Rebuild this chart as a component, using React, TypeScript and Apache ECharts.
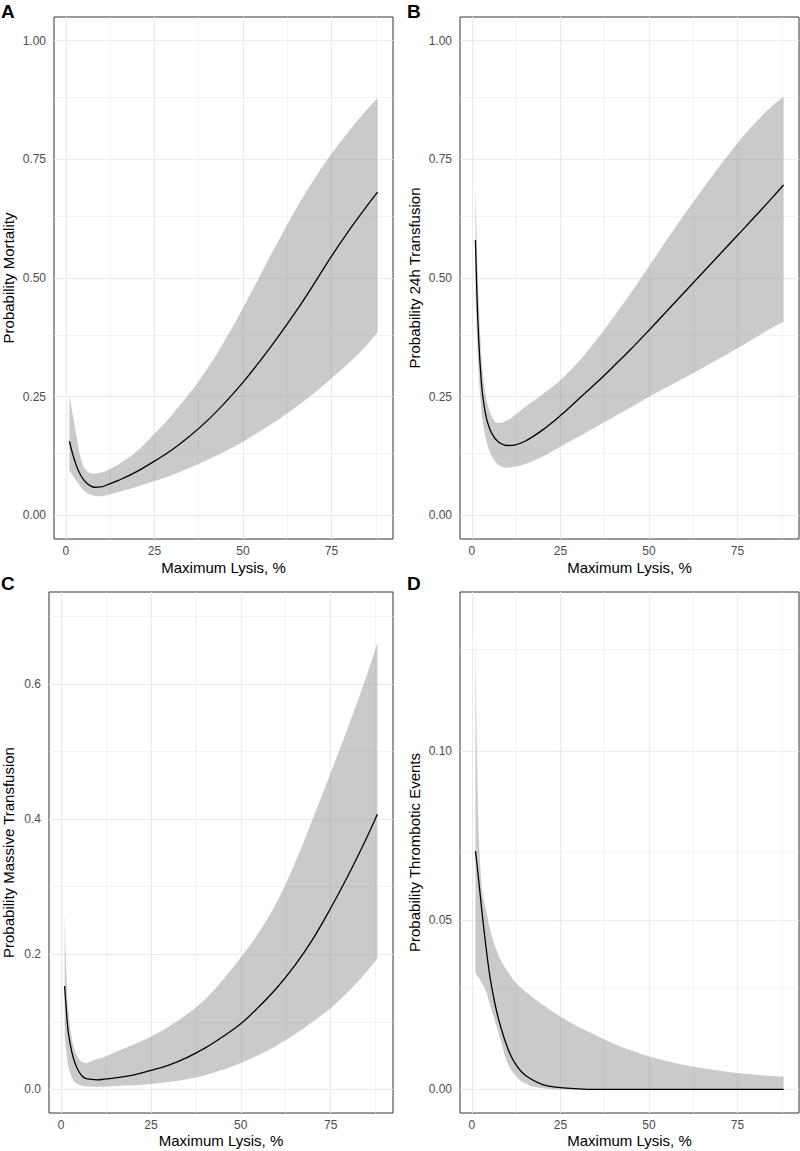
import React, { useEffect, useRef } from "react";
import * as echarts from "echarts";

// ---------- Data ----------
const xA = [1, 2, 3, 4, 5, 6, 7, 8, 10, 12, 15, 20, 25, 30, 35, 40, 45, 50, 55, 60, 65, 70, 75, 80, 85, 88];
const fitA = [0.156, 0.127, 0.104, 0.087, 0.075, 0.067, 0.062, 0.059, 0.06, 0.065, 0.074, 0.092, 0.114, 0.138, 0.167, 0.2, 0.238, 0.28, 0.327, 0.377, 0.43, 0.487, 0.546, 0.601, 0.652, 0.681];
const upA = [0.252, 0.21, 0.167, 0.126, 0.103, 0.093, 0.089, 0.088, 0.09, 0.096, 0.108, 0.135, 0.172, 0.212, 0.258, 0.31, 0.37, 0.437, 0.508, 0.578, 0.646, 0.707, 0.762, 0.81, 0.855, 0.879];
const lowA = [0.095, 0.083, 0.072, 0.062, 0.053, 0.047, 0.043, 0.041, 0.04, 0.043, 0.049, 0.06, 0.072, 0.085, 0.1, 0.117, 0.135, 0.155, 0.178, 0.202, 0.228, 0.257, 0.289, 0.322, 0.359, 0.386];

const xB = [1, 1.5, 2, 2.5, 3, 4, 5, 6, 7, 8, 10, 12, 15, 20, 25, 30, 35, 40, 45, 50, 55, 60, 65, 70, 75, 80, 85, 88];
const fitB = [0.58, 0.45, 0.36, 0.3, 0.255, 0.208, 0.183, 0.168, 0.158, 0.152, 0.147, 0.148, 0.156, 0.18, 0.21, 0.244, 0.278, 0.314, 0.351, 0.39, 0.43, 0.47, 0.51, 0.55, 0.59, 0.63, 0.671, 0.696];
const upB = [0.7, 0.55, 0.44, 0.36, 0.305, 0.25, 0.22, 0.203, 0.195, 0.195, 0.2, 0.21, 0.228, 0.255, 0.285, 0.323, 0.368, 0.418, 0.47, 0.525, 0.58, 0.634, 0.686, 0.736, 0.784, 0.827, 0.864, 0.882];
const lowB = [0.47, 0.37, 0.29, 0.24, 0.2, 0.16, 0.135, 0.12, 0.11, 0.104, 0.1, 0.102, 0.108, 0.124, 0.145, 0.165, 0.186, 0.207, 0.228, 0.25, 0.27, 0.29, 0.31, 0.331, 0.352, 0.374, 0.396, 0.408];

const xC = [1, 1.5, 2, 3, 4, 5, 6, 7, 8, 10, 12, 15, 20, 25, 30, 35, 40, 45, 50, 55, 60, 65, 70, 75, 80, 85, 88];
const fitC = [0.153, 0.115, 0.085, 0.055, 0.037, 0.026, 0.019, 0.016, 0.015, 0.014, 0.015, 0.017, 0.021, 0.028, 0.036, 0.047, 0.061, 0.078, 0.097, 0.122, 0.15, 0.183, 0.222, 0.268, 0.318, 0.372, 0.407];
const upC = [0.265, 0.17, 0.12, 0.075, 0.055, 0.045, 0.04, 0.039, 0.041, 0.045, 0.048, 0.055, 0.066, 0.078, 0.093, 0.111, 0.133, 0.162, 0.195, 0.232, 0.277, 0.334, 0.4, 0.468, 0.538, 0.612, 0.66];
const lowC = [0.08, 0.055, 0.035, 0.018, 0.01, 0.007, 0.005, 0.0045, 0.004, 0.004, 0.004, 0.005, 0.006, 0.008, 0.011, 0.015, 0.021, 0.029, 0.039, 0.051, 0.065, 0.081, 0.1, 0.12, 0.145, 0.174, 0.194];

const xD = [1, 1.5, 2, 2.5, 3, 4, 5, 6, 7, 8, 10, 12, 15, 20, 25, 30, 35, 40, 45, 50, 55, 60, 65, 70, 75, 80, 85, 88];
const fitD = [0.0704, 0.066, 0.061, 0.056, 0.051, 0.042, 0.034, 0.028, 0.023, 0.019, 0.0125, 0.008, 0.0042, 0.0014, 0.0005, 0.00015, 0, 0, 0, 0, 0, 0, 0, 0, 0, 0, 0, 0];
const upD = [0.138, 0.097, 0.074, 0.064, 0.058, 0.053, 0.048, 0.044, 0.041, 0.0385, 0.035, 0.032, 0.029, 0.025, 0.0215, 0.0185, 0.016, 0.0135, 0.0115, 0.0098, 0.0084, 0.0072, 0.0063, 0.0055, 0.0048, 0.0043, 0.0039, 0.0037];
const lowD = [0.0345, 0.0335, 0.033, 0.032, 0.031, 0.029, 0.0255, 0.022, 0.0185, 0.015, 0.008, 0.0045, 0.0017, 0.0003, 0, 0, 0, 0, 0, 0, 0, 0, 0, 0, 0, 0, 0, 0];

const xTicks = [0, 25, 50, 75];
const xMinor = [12.5, 37.5, 62.5, 87.5];
const yTicksAB = [0, 0.25, 0.5, 0.75, 1];
const yMinorAB = [0.125, 0.375, 0.625, 0.875];
const yTicksC = [0, 0.2, 0.4, 0.6];
const yMinorC = [0.1, 0.3, 0.5, 0.7];
const yTicksD = [0, 0.05, 0.1];
const yMinorD = [0.025, 0.075, 0.125];

const letters = ["A", "B", "C", "D"];
const yTitles = [
  "Probability Mortality",
  "Probability 24h Transfusion",
  "Probability Massive Transfusion",
  "Probability Thrombotic Events",
];
const xTitle = "Maximum Lysis, %";

const FONT = "'Liberation Sans', Arial, Helvetica, sans-serif";

const panels = [
  { x: xA, fit: fitA, up: upA, low: lowA, yMin: -0.05, yMax: 1.05, yTicks: yTicksAB, yMinor: yMinorAB, dec: 2,
    grid: { left: 54, top: 17, width: 339, height: 522 }, yGap: 38, xGap: 21, letterPos: [1, 2] },
  { x: xB, fit: fitB, up: upB, low: lowB, yMin: -0.05, yMax: 1.05, yTicks: yTicksAB, yMinor: yMinorAB, dec: 2,
    grid: { left: 460, top: 17, width: 339, height: 522 }, yGap: 38, xGap: 21, letterPos: [407, 2] },
  { x: xC, fit: fitC, up: upC, low: lowC, yMin: -0.035, yMax: 0.736, yTicks: yTicksC, yMinor: yMinorC, dec: 1,
    grid: { left: 47, top: 592, width: 346, height: 521 }, yGap: 33, xGap: 20, letterPos: [1, 574] },
  { x: xD, fit: fitD, up: upD, low: lowD, yMin: -0.007, yMax: 0.147, yTicks: yTicksD, yMinor: yMinorD, dec: 2,
    grid: { left: 460, top: 592, width: 339, height: 521 }, yGap: 38, xGap: 20, letterPos: [407, 574] },
];

const SMOOTH = 0.4;

function buildOption() {
  const grid: any[] = [];
  const xAxis: any[] = [];
  const yAxis: any[] = [];
  const series: any[] = [];
  const graphic: any[] = [];

  panels.forEach((p, i) => {
    grid.push({
      ...p.grid,
      show: true,
      borderColor: "#333333",
      borderWidth: 1,
      backgroundColor: "transparent",
      containLabel: false,
    });
    xAxis.push({
      type: "value",
      gridIndex: i,
      min: -3.35,
      max: 92.35,
      name: xTitle,
      nameLocation: "middle",
      nameGap: p.xGap,
      nameTextStyle: { fontFamily: FONT, fontSize: 15, color: "#000" },
      axisLine: { show: false },
      axisTick: { show: true, customValues: xTicks, length: 4, lineStyle: { color: "#333333", width: 1 } },
      axisLabel: { customValues: xTicks, margin: 6, fontFamily: FONT, fontSize: 12, color: "#4D4D4D", formatter: (v: number) => String(v) },
      splitLine: { show: false },
    });
    yAxis.push({
      type: "value",
      gridIndex: i,
      min: p.yMin,
      max: p.yMax,
      name: yTitles[i],
      nameLocation: "middle",
      nameGap: p.yGap,
      nameTextStyle: { fontFamily: FONT, fontSize: 15, color: "#000" },
      axisLine: { show: false },
      axisTick: { show: true, customValues: p.yTicks, length: 4, lineStyle: { color: "#333333", width: 1 } },
      axisLabel: { customValues: p.yTicks, margin: 8, fontFamily: FONT, fontSize: 12, color: "#4D4D4D", formatter: (v: number) => v.toFixed(p.dec) },
      splitLine: { show: false },
    });

    const gridLines: any[] = [];
    xTicks.forEach((v) => gridLines.push({ xAxis: v, lineStyle: { width: 1.1 } }));
    xMinor.forEach((v) => gridLines.push({ xAxis: v, lineStyle: { width: 0.6 } }));
    p.yTicks.forEach((v) => gridLines.push({ yAxis: v, lineStyle: { width: 1.1 } }));
    p.yMinor.forEach((v) => { if (v < p.yMax) gridLines.push({ yAxis: v, lineStyle: { width: 0.6 } }); });

    const stackName = "band" + i;
    // value first so that the stacked dimension is the y value (x is the second dimension)
    series.push({
      type: "line",
      xAxisIndex: i,
      yAxisIndex: i,
      dimensions: [{ name: "val", type: "float" }, { name: "lysis", type: "float" }],
      encode: { x: "lysis", y: "val" },
      data: p.x.map((x, j) => [p.low[j], x]),
      stack: stackName,
      symbol: "none",
      smooth: SMOOTH,
      lineStyle: { opacity: 0 },
      silent: true,
      z: 3,
      markLine: {
        silent: true,
        z: 1,
        symbol: ["none", "none"],
        label: { show: false },
        lineStyle: { color: "#EBEBEB", type: "solid" },
        emphasis: { disabled: true },
        data: gridLines,
      },
    });
    series.push({
      type: "line",
      xAxisIndex: i,
      yAxisIndex: i,
      dimensions: [{ name: "val", type: "float" }, { name: "lysis", type: "float" }],
      encode: { x: "lysis", y: "val" },
      data: p.x.map((x, j) => [+(p.up[j] - p.low[j]).toFixed(6), x]),
      stack: stackName,
      symbol: "none",
      smooth: SMOOTH,
      lineStyle: { opacity: 0 },
      areaStyle: { color: "rgba(128,128,128,0.42)", opacity: 1 },
      silent: true,
      z: 4,
    });
    series.push({
      type: "line",
      xAxisIndex: i,
      yAxisIndex: i,
      data: p.x.map((x, j) => [x, p.fit[j]]),
      symbol: "none",
      smooth: SMOOTH,
      lineStyle: { color: "#000000", width: 1.3 },
      silent: true,
      z: 5,
    });

    graphic.push({
      type: "text",
      left: p.letterPos[0],
      top: p.letterPos[1],
      style: { text: letters[i], font: `bold 19px ${FONT}`, fill: "#000" },
    });
  });

  return {
    animation: false,
    backgroundColor: "#ffffff",
    grid,
    xAxis,
    yAxis,
    series,
    graphic,
  };
}

export default function App() {
  const ref = useRef<HTMLDivElement>(null);
  useEffect(() => {
    if (!ref.current) return;
    const chart = echarts.init(ref.current, null, { renderer: "svg" });
    chart.setOption(buildOption() as any);
    return () => chart.dispose();
  }, []);
  return (
    <div
      ref={ref}
      style={{ position: "absolute", left: 0, top: 0, width: 800, height: 1151, background: "#fff" }}
    />
  );
}
